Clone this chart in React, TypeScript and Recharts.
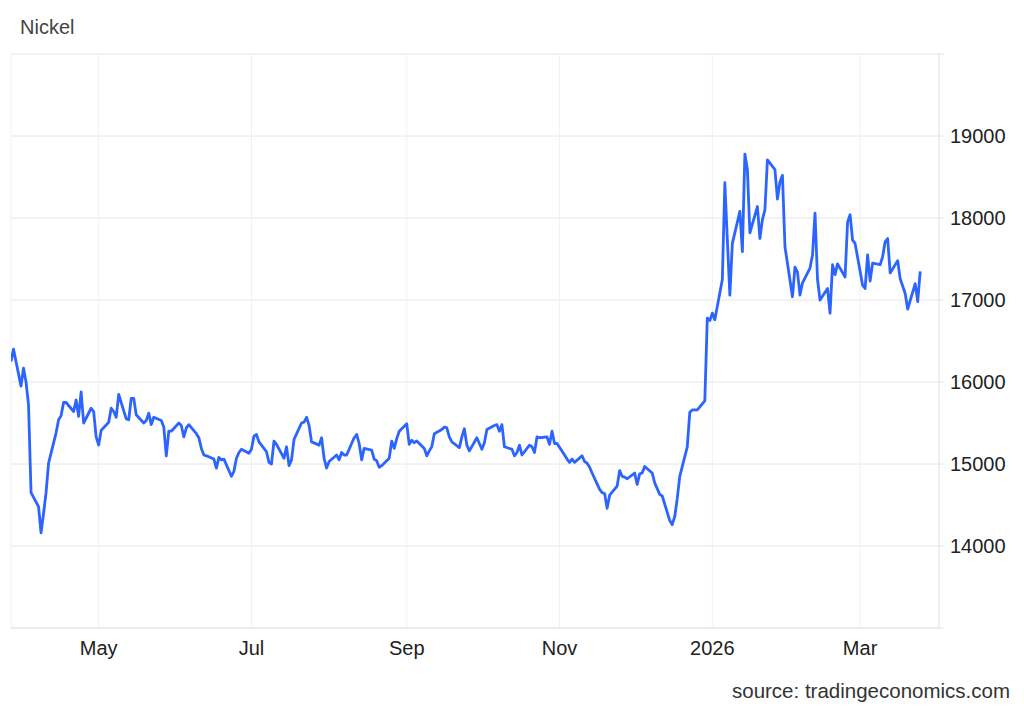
import React from 'react';
import { LineChart, Line, XAxis, YAxis, CartesianGrid } from 'recharts';

// first trading day shown; the following points are consecutive weekdays
const seriesStart = '2025-03-27';

const springPrices = [
  16250, 16400, 15950, 16170, 16000, 15720, 14650, 14480, 14160, 14400,
  14650, 15010, 15380, 15540, 15590, 15750, 15750, 15640, 15780, 15580,
  15880, 15500, 15680, 15640, 15330, 15230, 15410, 15510, 15680, 15640,
  15570, 15850, 15550, 15540, 15800, 15800, 15600, 15500, 15530, 15620,
  15480, 15570, 15530,
];
const summerPrices = [
  15450, 15100, 15400, 15400, 15500, 15470, 15330, 15440, 15480, 15370,
  15320, 15190, 15110, 15100, 15060, 14950, 15080, 15050, 15060, 14850,
  14910, 15070, 15140, 15180, 15130, 15180, 15340, 15360, 15270, 15150,
  15020, 15000, 15280, 15240, 15070, 15210, 14980, 15050, 15300, 15500,
  15510, 15570, 15470, 15270, 15230,
];
const autumnPrices = [
  15320, 15070, 14950, 15030, 15110, 15050, 15140, 15110, 15110, 15320,
  15360, 15250, 15050, 15190, 15170, 15060, 15040, 14960, 14980, 15070,
  15280, 15190, 15310, 15400, 15490, 15240, 15290, 15260, 15280, 15190,
  15100, 15160, 15210, 15370, 15420, 15450, 15440, 15330, 15270, 15200,
  15330, 15430, 15230, 15160,
];
const octNovPrices = [
  15320, 15250, 15180, 15260, 15420, 15470, 15480, 15400, 15480, 15210,
  15180, 15100, 15140, 15230, 15110, 15230, 15210, 15140, 15330, 15320,
  15330, 15240, 15400, 15250, 15250, 15110, 15060, 15020, 15060, 15020,
  15100, 15030, 15010, 14960, 14890, 14690, 14650, 14640, 14460, 14620,
  14730, 14920, 14850, 14840,
];
const decemberPrices = [
  14820, 14890, 14750, 14880, 14890, 14970, 14890, 14770, 14700, 14630,
  14610, 14310, 14260, 14360, 14580, 14850, 15210, 15630, 15660, 15660,
  15660, 15770, 16780, 16750, 16840, 16760,
];
const winterPrices = [
  17250, 18430, 17730, 17060, 17690, 18080, 17590, 18780, 18590, 17820,
  18140, 17750, 17980, 18100, 18710, 18590, 18230, 18440, 18520, 17650,
  17040, 17400, 17340, 17060, 17210, 17390, 17550, 18060, 17250, 17000,
];
const marchPrices = [
  17140, 16840, 17430, 17310, 17440, 17280, 17950, 18040, 17730, 17690,
  17180, 17140, 17550, 17230, 17450, 17430, 17530, 17710, 17750, 17330,
  17480, 17260, 17170, 17080, 16890, 17200, 16980, 17350,
];

const tickDates = ['2025-05-01', '2025-07-01', '2025-09-01', '2025-11-01', '2026-01-01', '2026-03-01'];
const tickLabels = ['May', 'Jul', 'Sep', 'Nov', '2026', 'Mar'];
const yTicks = [13000, 14000, 15000, 16000, 17000, 18000, 19000, 20000];

const DAY = 86400000;
const toTime = (s: string) => Date.parse(s + 'T00:00:00Z');

const prices = [
  ...springPrices, ...summerPrices, ...autumnPrices, ...octNovPrices,
  ...decemberPrices, ...winterPrices, ...marchPrices,
];

// walk weekdays from the start date
const chartData: { t: number; price: number }[] = [];
let t = toTime(seriesStart);
for (const price of prices) {
  while ([0, 6].includes(new Date(t).getUTCDay())) t += DAY;
  chartData.push({ t, price });
  t += DAY;
}

const xTicks = tickDates.map(toTime);
const xDomain = [toTime(seriesStart), toTime('2026-04-01') + DAY / 2];

const FONT = '"Liberation Sans", Arial, sans-serif';

export default function App() {
  return (
    <div style={{ position: 'absolute', left: 0, top: 0, width: 1024, height: 710, background: '#fff', fontFamily: FONT }}>
      <div style={{ position: 'absolute', left: 20, top: 16, fontSize: 20, color: '#444' }}>Nickel</div>
      <LineChart
        width={1024}
        height={710}
        data={chartData}
        margin={{ top: 54, right: 5, left: 11, bottom: 42 }}
      >
        <CartesianGrid vertical={false} stroke="#e6e6e6" strokeWidth={1} />
        <CartesianGrid horizontal={false} stroke="#eef1f6" strokeWidth={1} />
        <XAxis
          dataKey="t"
          type="number"
          scale="time"
          domain={xDomain}
          ticks={xTicks}
          tickFormatter={(v) => tickLabels[xTicks.indexOf(v)] ?? ''}
          height={40}
          axisLine={{ stroke: '#e6e6e6' }}
          tickLine={false}
          tickSize={6}
          tickMargin={7}
          tick={{ fill: '#222', fontSize: 20, fontFamily: FONT }}
          allowDataOverflow
        />
        <YAxis
          orientation="right"
          width={80}
          domain={[13000, 20000]}
          ticks={yTicks}
          interval={0}
          tickFormatter={(v) => (v === 13000 || v === 20000 ? '' : String(v))}
          axisLine={{ stroke: '#e6e6e6' }}
          tickLine={{ stroke: '#e6e6e6' }}
          tickSize={5}
          tickMargin={6}
          tick={{ fill: '#222', fontSize: 20, fontFamily: FONT }}
        />
        <Line
          type="linear"
          dataKey="price"
          stroke="#2c64ff"
          strokeWidth={2.8}
          strokeLinejoin="round"
          dot={false}
          isAnimationActive={false}
        />
      </LineChart>
      <div style={{ position: 'absolute', right: 14, top: 679, fontSize: 20.5, color: '#333' }}>
        source: tradingeconomics.com
      </div>
    </div>
  );
}
